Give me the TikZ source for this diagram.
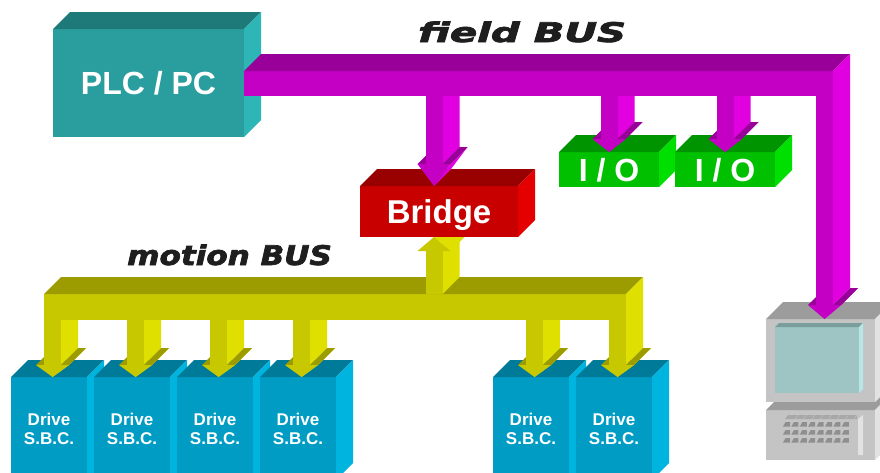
\documentclass[tikz,border=0pt]{standalone}
\usepackage{fontspec}
\setmainfont{Liberation Sans}
\newfontfamily\busfont{DejaVu Sans}[BoldItalicFeatures={FakeBold=2.5}]
\usepackage{tikz}
\usetikzlibrary{calc}
\usetikzlibrary{positioning}
\definecolor{plcfront}{HTML}{2A9E9E}
\definecolor{plctop}{HTML}{1E7A78}
\definecolor{plcside}{HTML}{2EB5B5}
\definecolor{brfront}{HTML}{C80000}
\definecolor{brtop}{HTML}{990000}
\definecolor{brside}{HTML}{E40000}
\definecolor{iofront}{HTML}{00C000}
\definecolor{iotop}{HTML}{009400}
\definecolor{ioside}{HTML}{00E000}
\definecolor{drvfront}{HTML}{009CC4}
\definecolor{drvtop}{HTML}{007A99}
\definecolor{drvside}{HTML}{00B4E0}
\definecolor{pcfront}{HTML}{C4C4C4}
\definecolor{pctop}{HTML}{9C9C9C}
\definecolor{pcside}{HTML}{E2E2E2}
\definecolor{pcstrip}{HTML}{A8A8A8}
\definecolor{pckey}{HTML}{8F8F8F}
\definecolor{scrfront}{HTML}{9EC4C4}
\definecolor{scrtop}{HTML}{7A9E9C}
\definecolor{scrside}{HTML}{B8E6E6}
\definecolor{fbfront}{HTML}{C400C4}
\definecolor{fbtop}{HTML}{990099}
\definecolor{fbside}{HTML}{E000E0}
\definecolor{mbfront}{HTML}{C8C800}
\definecolor{mbtop}{HTML}{9C9C00}
\definecolor{mbside}{HTML}{E0E000}
\definecolor{labelgray}{HTML}{1E1E1E}
\newcommand\boxfont[1]{\fontsize{#1}{#1}\selectfont\bfseries}
\tikzset{%
  cube/.style={rectangle,inner sep=0pt,outer sep=0pt,anchor=north west,text=white,text depth=0pt},
  bar/.style={rectangle,inner sep=0pt,outer sep=0pt,anchor=north west},
  buslabel/.style={anchor=base west,inner sep=0pt,text=labelgray,font=\busfont\bfseries\itshape\fontsize{27}{27}\selectfont}
}
% top and right faces of a box node
\newcommand\cubefaces[4]{%
  \fill[#2] (#1.north west) -- ++(#4,-#4) -- ($(#1.north east)+(#4,-#4)$) -- (#1.north east) -- cycle;
  \fill[#3] (#1.north east) -- ++(#4,-#4) -- ($(#1.south east)+(#4,-#4)$) -- (#1.south east) -- cycle;}
\newcommand\busfaces[3]{%
  \fill[#2] (#1.north west) -- ++(17,-17) -- ($(#1.north east)+(17,-17)$) -- (#1.north east) -- cycle;
  \fill[#3] (#1.north east) -- ++(17,-17) -- ($(#1.south east)+(17,0)$) -- (#1.south east) -- cycle;}
% arrow down from a bus to a tip
\newcommand\dropto[4]{%
  \coordinate (dt) at (#1);
  \coordinate (db) at (dt |- #2.south);
  \coordinate (dh) at ($(dt)+(0,-#3)$);
  \fill[#4side] ($(db)+(8.5,0)$) -- ($(db)+(25.5,0)$) -- ($(dh)+(25.5,-17)$) -- ($(dh)+(8.5,0)$) -- cycle;
  \fill[#4side] ($(dh)+(16.5,0)$) -- ++(17,-17) -- ($(dt)+(17,-17)$) -- (dt) -- cycle;
  \fill[#4top] ($(dh)+(-16.5,0)$) -- ++(17,-17) -- ++(8,0) -- ($(dh)+(-8.5,0)$) -- cycle;
  \fill[#4top] ($(dh)+(8.5,0)$) -- ++(17,-17) -- ++(8,0) -- ($(dh)+(16.5,0)$) -- cycle;
  \fill[#4front] ($(db)+(-8.5,0)$) rectangle ($(dh)+(8.5,0)$);
  \fill[#4front] ($(dh)+(-16.5,0)$) -- ($(dh)+(16.5,0)$) -- (dt) -- cycle;}
% arrow up from a bus to a tip
\newcommand\riseto[4]{%
  \coordinate (dt) at (#1);
  \coordinate (db) at (dt |- #2.north);
  \coordinate (dh) at ($(dt)+(0,#3)$);
  \fill[#4side] ($(db)+(8.5,0)$) -- ++(17,-17) -- ($(dh)+(25.5,-17)$) -- ($(dh)+(8.5,0)$) -- cycle;
  \fill[#4side] ($(dh)+(16.5,0)$) -- ++(17,-17) -- ($(dt)+(17,-17)$) -- (dt) -- cycle;
  \fill[#4front] ($(db)+(-8.5,0)$) rectangle ($(dh)+(8.5,0)$);
  \fill[#4front] ($(dh)+(-16.5,0)$) -- ($(dh)+(16.5,0)$) -- (dt) -- cycle;}

\begin{document}
\begin{tikzpicture}[x=1pt,y=-1pt]
  \clip (0,0) rectangle (880,472);
  \fill[white] (0,0) rectangle (880,472);

  \node[cube,fill=plcfront,minimum width=191pt,minimum height=108pt,font=\boxfont{32}] (plc) at (53,29) {PLC / PC};
  \cubefaces{plc}{plctop}{plcside}{17}
  \node[bar,fill=fbfront,minimum width=589pt,minimum height=25pt] (fieldbus) at (244,71) {};
  \busfaces{fieldbus}{fbtop}{fbside}
  \node[buslabel] (fieldlabel) at (418,42) {\scalebox{1.49}[1]{field BUS}};

  \node[cube,fill=brfront,minimum width=158pt,minimum height=51pt,font=\boxfont{33}] (bridge) at (360,186) {Bridge};
  \cubefaces{bridge}{brtop}{brside}{17}
  \node[cube,fill=iofront,minimum width=100pt,minimum height=35pt,font=\boxfont{32}] (io1) at (559,152) {I / O};
  \cubefaces{io1}{iotop}{ioside}{17}
  \node[cube,fill=iofront,minimum width=100pt,minimum height=35pt,font=\boxfont{32},right=16pt of io1] (io2) {I / O};
  \cubefaces{io2}{iotop}{ioside}{17}

  % computer
  \node[bar,fill=pcfront,minimum width=109pt,minimum height=50pt] (pcbase) at (766,410) {};
  \cubefaces{pcbase}{pctop}{pcside}{17}
  \fill[pcstrip] ($(pcbase.north west)+(19,9)$) -- ++(3,-4) -- ++(69,0) -- ++(0,4) -- cycle;
  \foreach \k in {0,...,7}{
    \draw[pcfront,line width=0.4pt] ($(pcbase.north west)+(29+8.4*\k,9)$) -- ++(3,-4);
  }
  \foreach \r in {0,1,2}{
    \foreach \k in {0,...,7}{
      \fill[pckey] ($(pcbase.north west)+(17+8.4*\k,16.5+8*\r)$) -- ++(2.5,-4.5) -- ++(4.5,0) -- ++(0,4.5) -- cycle;
    }
  }
  \fill[pcside] ($(pcbase.north west)+(92,9)$) -- ++(5,-4) -- ++(0,40) -- ++(-5,0) -- cycle;
  \node[bar,fill=pcfront,minimum width=109pt,minimum height=83pt] (monitor) at (766,319) {};
  \cubefaces{monitor}{pctop}{pcside}{17}
  \node[bar,fill=scrfront,minimum width=84pt,minimum height=66pt] (screen) at ($(monitor.north west)+(9,8)$) {};
  \cubefaces{screen}{scrtop}{scrside}{4}

  % drives on the motion bus
  \foreach \i/\x in {1/11,2/94,3/177,4/260,5/493,6/576}{
    \node[cube,fill=drvfront,minimum width=76pt,minimum height=103pt,align=center,font=\fontsize{17}{19}\selectfont\bfseries] (drive\i) at (\x,377) {Drive\\S.B.C.};
    \cubefaces{drive\i}{drvtop}{drvside}{17}
  }
  \node[bar,fill=mbfront,minimum width=582pt,minimum height=26pt] (motionbus) at (44,294) {};
  \busfaces{motionbus}{mbtop}{mbside}
  \node[buslabel] (motionlabel) at (127,265) {\scalebox{1.15}[1]{motion BUS}};
  \foreach \i in {1,...,6}{
    \dropto{$(drive\i.north)+(3.5,0)$}{motionbus}{12}{mb}
  }
  \begin{scope}
    \clip ($(bridge.south west)+(-50,0)$) rectangle ($(bridge.south east)+(50,80)$);
    \riseto{$(bridge.south)+(-5,0)$}{motionbus}{14}{mb}
  \end{scope}

  % field bus drops
  \dropto{$(bridge.north)+(-5,0)$}{fieldbus}{22}{fb}
  \dropto{io1.north}{fieldbus}{13}{fb}
  \dropto{io2.north}{fieldbus}{13}{fb}
  \dropto{$(monitor.north)+(4,0)$}{fieldbus}{14}{fb}
\end{tikzpicture}
\end{document}
